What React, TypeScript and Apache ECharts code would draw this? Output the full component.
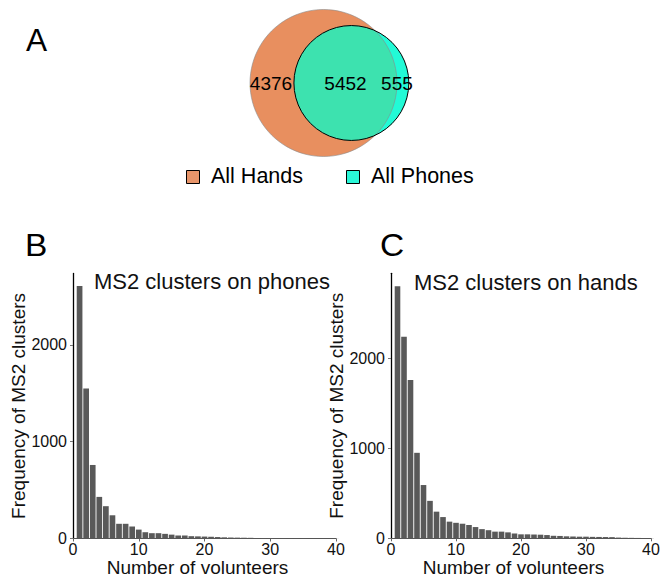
import React, { useEffect, useRef } from "react";
import * as echarts from "echarts";

// ---------- data ----------
const vennNames = ["All Hands", "All Phones"];
const handsOnly = 4376;
const sharedCount = 5452;
const phonesOnly = 555;

const panelLetters = ["A", "B", "C"];
const chartTitles = ["MS2 clusters on phones", "MS2 clusters on hands"];
const xName = "Number of volunteers";
const yName = "Frequency of MS2 clusters";

const volunteers = [
  1, 2, 3, 4, 5, 6, 7, 8, 9, 10, 11, 12, 13, 14, 15, 16, 17, 18, 19, 20,
  21, 22, 23, 24, 25, 26, 27, 28, 29, 30, 31, 32, 33, 34, 35, 36, 37, 38, 39, 40,
];
const phonesFreq = [
  2610, 1550, 760, 430, 334, 240, 152, 152, 124, 92, 65, 55, 55, 48, 40, 31, 31, 24, 22, 20,
  18, 15, 12, 10, 9, 8, 7, 6, 5, 5, 4, 4, 3, 3, 3, 2, 2, 2, 2, 1,
];
const handsFreq = [
  2800, 2240, 1760, 950, 592, 416, 296, 236, 185, 172, 162, 148, 125, 102, 90, 74, 74, 66, 52, 44,
  44, 42, 40, 36, 28, 26, 22, 20, 18, 18, 16, 15, 14, 13, 8, 6, 5, 4, 3, 2,
];
const xTicks = [0, 10, 20, 30, 40];
const yTicks = [0, 1000, 2000];

// ---------- styles ----------
const FONT = "'Liberation Sans', Arial, Helvetica, sans-serif";
const ORANGE = "#E88F5F";
const CYAN = "#22FAD6";
const OVERLAP = "#3DE2AF";
const BAR = "#595959";

// ---------- venn geometry (proportional areas from the counts) ----------
const totalHands = handsOnly + sharedCount;
const totalPhones = sharedCount + phonesOnly;
const R_H = 73.5;
const areaPerUnit = (Math.PI * R_H * R_H) / totalHands;
const R_P = Math.sqrt((totalPhones * areaPerUnit) / Math.PI);

function lensArea(d: number, r1: number, r2: number) {
  if (d >= r1 + r2) return 0;
  if (d <= Math.abs(r1 - r2)) return Math.PI * Math.min(r1, r2) ** 2;
  const a1 = Math.acos((d * d + r1 * r1 - r2 * r2) / (2 * d * r1));
  const a2 = Math.acos((d * d + r2 * r2 - r1 * r1) / (2 * d * r2));
  const k = Math.sqrt((-d + r1 + r2) * (d + r1 - r2) * (d - r1 + r2) * (d + r1 + r2));
  return r1 * r1 * a1 + r2 * r2 * a2 - 0.5 * k;
}
const targetLens = sharedCount * areaPerUnit;
let lo = Math.abs(R_H - R_P);
let hi = R_H + R_P;
for (let i = 0; i < 80; i++) {
  const mid = (lo + hi) / 2;
  if (lensArea(mid, R_H, R_P) > targetLens) lo = mid;
  else hi = mid;
}
const D = (lo + hi) / 2;
const CX_H = 323.5;
const CY = 83;
const CX_P = CX_H + D;
const aa = (D * D + R_H * R_H - R_P * R_P) / (2 * D);
const hh = Math.sqrt(Math.max(0, R_H * R_H - aa * aa));
const IX = CX_H + aa;
const largeH = IX < CX_H ? 1 : 0;
const largeP = IX > CX_P ? 1 : 0;
const lensD = `M${IX} ${CY - hh} A${R_H} ${R_H} 0 ${largeH} 1 ${IX} ${CY + hh} A${R_P} ${R_P} 0 ${largeP} 1 ${IX} ${CY - hh} Z`;
echarts.graphic.registerShape("vennLens", echarts.graphic.extendPath(lensD, {}));

const fmt = (n: number) => String(n);

function axisPair(gridIndex: number, yMax: number) {
  const x = {
    gridIndex,
    type: "value",
    min: 0,
    max: 40,
    interval: 10,
    axisLine: { show: true, lineStyle: { color: "#555", width: 1 } },
    axisTick: { show: true, length: 3, customValues: xTicks, lineStyle: { color: "#666" } },
    axisLabel: { show: true, margin: 3, fontSize: 16, color: "#111", fontFamily: FONT, customValues: xTicks },
    splitLine: { show: false },
    name: xName,
    nameLocation: "middle",
    nameGap: 17,
    nameTextStyle: { fontSize: 19, color: "#111", fontFamily: FONT, padding: [0, 14, 0, 0] },
  };
  const y = {
    gridIndex,
    type: "value",
    min: 0,
    max: yMax,
    interval: 1000,
    axisLine: { show: true, lineStyle: { color: "#000", width: 1.3 } },
    axisTick: { show: true, length: 3, customValues: yTicks, lineStyle: { color: "#777" } },
    axisLabel: {
      show: true,
      margin: 6,
      fontSize: 16,
      color: "#111",
      fontFamily: FONT,
      customValues: yTicks,
      formatter: (v: number) => (v % 1000 === 0 ? String(v) : ""),
    },
    splitLine: { show: false },
    name: yName,
    nameLocation: "middle",
    nameRotate: 90,
    nameGap: 43,
    nameTextStyle: { fontSize: 19, color: "#111", fontFamily: FONT },
  };
  return { x, y };
}

export default function App() {
  const ref = useRef<HTMLDivElement>(null);
  useEffect(() => {
    if (!ref.current) return;
    const chart = echarts.init(ref.current, undefined, { renderer: "svg" });
    const p = axisPair(0, 2740);
    const h = axisPair(1, 2945);
    h.x.nameTextStyle = { ...h.x.nameTextStyle, padding: [0, 15, 0, 0] };

    const letterStyle = (text: string) => ({
      text,
      fill: "#000",
      font: `31px ${FONT}`,
      textAlign: "left",
      textVerticalAlign: "middle",
      align: "left",
      verticalAlign: "middle",
    });

    const option: any = {
      animation: false,
      backgroundColor: "#fff",
      textStyle: { fontFamily: FONT },
      title: [
        {
          text: chartTitles[0],
          left: 94,
          top: 270,
          padding: 0,
          textStyle: { fontSize: 22, fontWeight: "normal", color: "#111", fontFamily: FONT },
        },
        {
          text: chartTitles[1],
          left: 414,
          top: 271.5,
          padding: 0,
          textStyle: { fontSize: 22, fontWeight: "normal", color: "#111", fontFamily: FONT },
        },
      ],
      grid: [
        { left: 73, top: 273.4, width: 263, height: 265.1, containLabel: false, outerBoundsMode: "none" },
        { left: 391, top: 273.3, width: 260, height: 265, containLabel: false, outerBoundsMode: "none" },
      ],
      xAxis: [p.x, h.x],
      yAxis: [p.y, h.y],
      series: [
        {
          type: "bar",
          name: chartTitles[0],
          xAxisIndex: 0,
          yAxisIndex: 0,
          barWidth: 5.7,
          itemStyle: { color: BAR },
          data: volunteers.map((v, i) => [v, phonesFreq[i]]),
        },
        {
          type: "bar",
          name: chartTitles[1],
          xAxisIndex: 1,
          yAxisIndex: 1,
          barWidth: 5.6,
          itemStyle: { color: BAR },
          data: volunteers.map((v, i) => [v, handsFreq[i]]),
        },
      ],
      graphic: [
        { type: "text", x: 26, y: 41, scaleX: 1.02, z: 100, style: letterStyle(panelLetters[0]) },
        { type: "text", x: 25, y: 245, scaleX: 1.08, z: 100, style: letterStyle(panelLetters[1]) },
        { type: "text", x: 380, y: 245, scaleX: 1.08, z: 100, style: letterStyle(panelLetters[2]) },
        // venn
        { type: "circle", z: 10, shape: { cx: CX_H, cy: CY, r: R_H }, style: { fill: ORANGE } },
        { type: "circle", z: 11, shape: { cx: CX_P, cy: CY, r: R_P }, style: { fill: CYAN } },
        { type: "vennLens", z: 12, x: 0, y: 0, style: { fill: OVERLAP } },
        {
          type: "circle",
          z: 13,
          shape: { cx: CX_H, cy: CY, r: R_H },
          style: { fill: "none", stroke: "#8a8a8a", lineWidth: 0.6 },
        },
        {
          type: "circle",
          z: 14,
          shape: { cx: CX_P, cy: CY, r: R_P },
          style: { fill: "none", stroke: "#000", lineWidth: 1 },
        },
        {
          type: "text",
          z: 20,
          x: (CX_H - R_H + (CX_P - R_P)) / 2 - 1,
          y: CY,
          style: { text: fmt(handsOnly), fill: "#000", font: `19px ${FONT}`, textAlign: "center", textVerticalAlign: "middle", align: "center", verticalAlign: "middle" },
        },
        {
          type: "text",
          z: 20,
          x: (CX_P - R_P + (CX_H + R_H)) / 2,
          y: CY,
          style: { text: fmt(sharedCount), fill: "#000", font: `19px ${FONT}`, textAlign: "center", textVerticalAlign: "middle", align: "center", verticalAlign: "middle" },
        },
        {
          type: "text",
          z: 20,
          x: (CX_H + R_H + (CX_P + R_P)) / 2 - 6,
          y: CY,
          style: { text: fmt(phonesOnly), fill: "#000", font: `19px ${FONT}`, textAlign: "center", textVerticalAlign: "middle", align: "center", verticalAlign: "middle" },
        },
        // legend
        {
          type: "rect",
          z: 20,
          shape: { x: 186.5, y: 170.5, width: 13, height: 13 },
          style: { fill: "#E8956A", stroke: "#000", lineWidth: 1 },
        },
        {
          type: "text",
          z: 20,
          x: 211,
          y: 176,
          style: { text: vennNames[0], fill: "#000", font: `21.5px ${FONT}`, textAlign: "left", textVerticalAlign: "middle", align: "left", verticalAlign: "middle" },
        },
        {
          type: "rect",
          z: 20,
          shape: { x: 346.5, y: 170.5, width: 13, height: 13 },
          style: { fill: "#2AF7D8", stroke: "#000", lineWidth: 1 },
        },
        {
          type: "text",
          z: 20,
          x: 371,
          y: 176,
          style: { text: vennNames[1], fill: "#000", font: `21.5px ${FONT}`, textAlign: "left", textVerticalAlign: "middle", align: "left", verticalAlign: "middle" },
        },
      ],
    };
    chart.setOption(option);
    return () => chart.dispose();
  }, []);
  return (
    <div
      ref={ref}
      style={{ position: "fixed", left: 0, top: 0, width: 661, height: 580, background: "#fff" }}
    />
  );
}
